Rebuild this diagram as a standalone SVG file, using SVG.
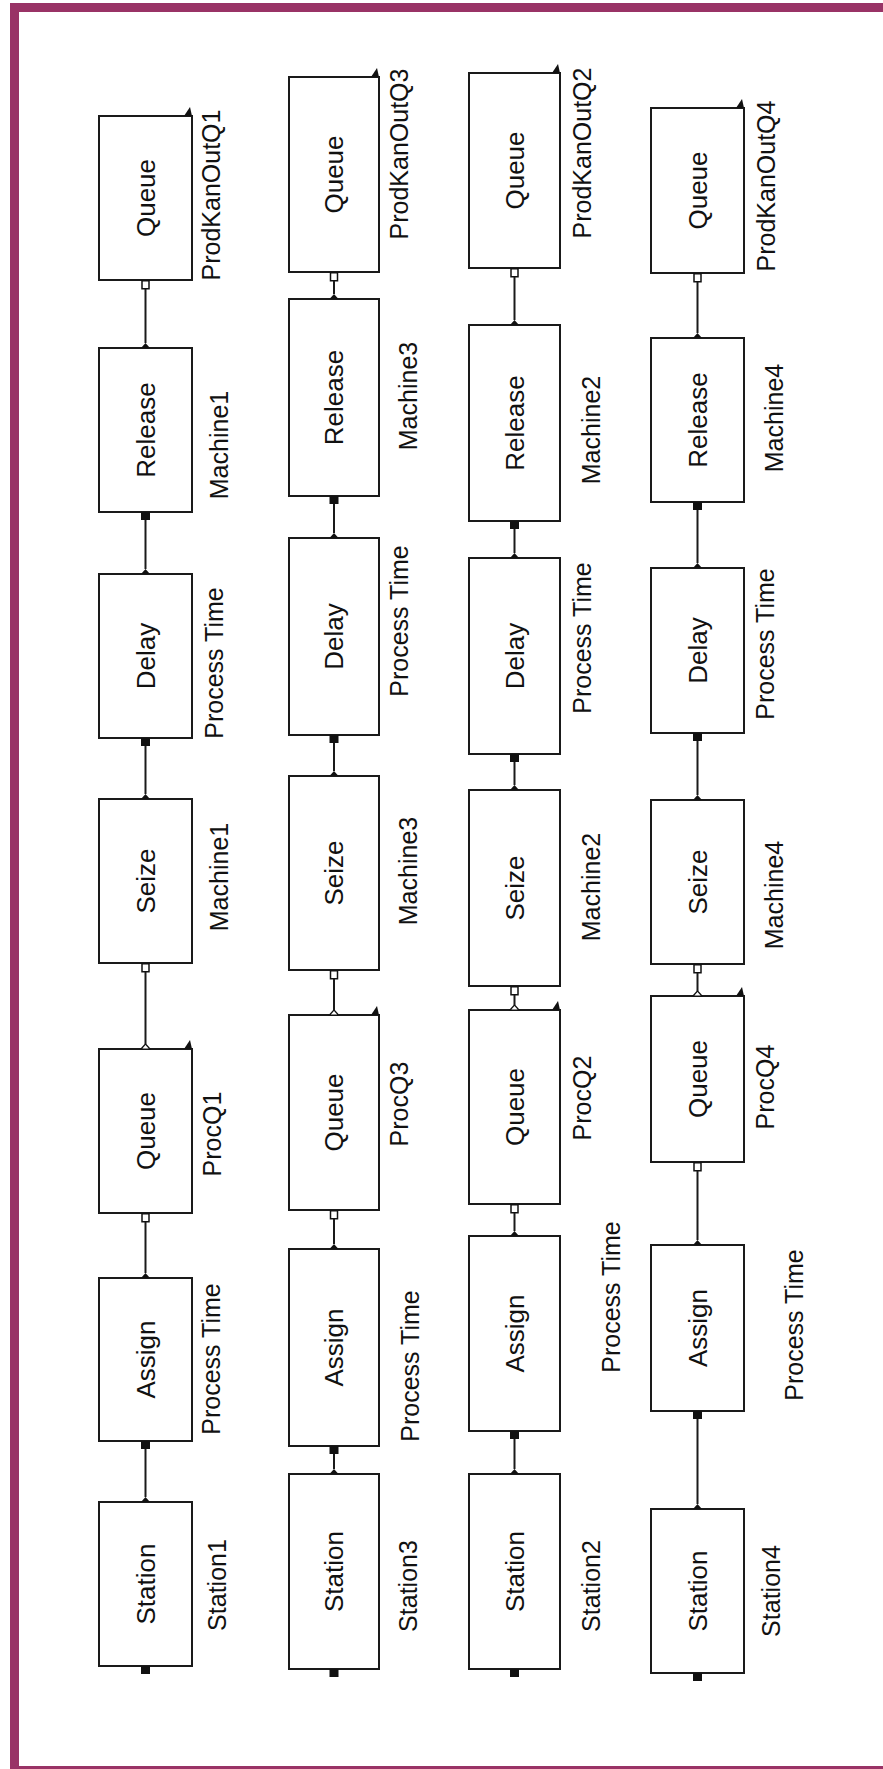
<svg xmlns="http://www.w3.org/2000/svg" xmlns:xlink="http://www.w3.org/1999/xlink" width="883" height="1769" viewBox="0 0 883 1769">
  <style>
    .box { fill: #ffffff; stroke: #1a1a1a; stroke-width: 2; }
    .in { font-family: "Liberation Sans", Arial, sans-serif; font-size: 26px; fill: #111; text-anchor: middle; }
    .lbl { font-family: "Liberation Sans", Arial, sans-serif; font-size: 25px; fill: #111; text-anchor: middle; }
    .wire { stroke: #1a1a1a; stroke-width: 2; fill: none; }
  </style>
  <defs>
    <!-- exit ports (filled / hollow squares), entry ports (small triangles), queue corner mark -->
    <rect id="sqF" x="-4.5" y="0" width="9" height="8" fill="#111"/>
    <rect id="sqO" x="-3.5" y="0.75" width="7" height="8" fill="#ffffff" stroke="#111" stroke-width="1.5"/>
    <path id="triF" d="M-4.5,0 L4.5,0 L0,-5 Z" fill="#111"/>
    <path id="triO" d="M-4.5,0 L4.5,0 L0,-5 Z" fill="#ffffff" stroke="#111" stroke-width="1.2"/>
    <path id="corner" d="M-8,0 L0,0 L-2,-9 Z" fill="#111"/>
  </defs>

  <!-- frame -->
  <rect x="14.5" y="7.5" width="900" height="1763" fill="none" stroke="#993366" stroke-width="9"/>

  <!-- ===== line 1 (x 99..192) ===== -->
  <g id="c1_prodkanout">
    <rect class="box" x="99" y="116" width="93" height="164"/>
    <text class="in" transform="translate(145.5,198) rotate(-90)" dy="0.35em">Queue</text>
    <text class="lbl" transform="translate(220,195) rotate(-90)">ProdKanOutQ1</text>
    <use xlink:href="#corner" x="192" y="116"/>
    <use xlink:href="#sqO" x="145.5" y="280"/>
  </g>
  <g id="c1_release">
    <rect class="box" x="99" y="348" width="93" height="164"/>
    <text class="in" transform="translate(145.5,430) rotate(-90)" dy="0.35em">Release</text>
    <text class="lbl" transform="translate(228,445) rotate(-90)">Machine1</text>
    <use xlink:href="#triF" x="145.5" y="348"/>
    <use xlink:href="#sqF" x="145.5" y="512"/>
  </g>
  <g id="c1_delay">
    <rect class="box" x="99" y="574" width="93" height="164"/>
    <text class="in" transform="translate(145.5,656) rotate(-90)" dy="0.35em">Delay</text>
    <text class="lbl" transform="translate(223,663) rotate(-90)">Process Time</text>
    <use xlink:href="#triF" x="145.5" y="574"/>
    <use xlink:href="#sqF" x="145.5" y="738"/>
  </g>
  <g id="c1_seize">
    <rect class="box" x="99" y="799" width="93" height="164"/>
    <text class="in" transform="translate(145.5,881) rotate(-90)" dy="0.35em">Seize</text>
    <text class="lbl" transform="translate(228,877) rotate(-90)">Machine1</text>
    <use xlink:href="#triF" x="145.5" y="799"/>
    <use xlink:href="#sqO" x="145.5" y="963"/>
  </g>
  <g id="c1_procq">
    <rect class="box" x="99" y="1049" width="93" height="164"/>
    <text class="in" transform="translate(145.5,1131) rotate(-90)" dy="0.35em">Queue</text>
    <text class="lbl" transform="translate(221,1134) rotate(-90)">ProcQ1</text>
    <use xlink:href="#corner" x="192" y="1049"/>
    <use xlink:href="#triO" x="145.5" y="1049"/>
    <use xlink:href="#sqO" x="145.5" y="1213"/>
  </g>
  <g id="c1_assign">
    <rect class="box" x="99" y="1278" width="93" height="163"/>
    <text class="in" transform="translate(145.5,1359.5) rotate(-90)" dy="0.35em">Assign</text>
    <text class="lbl" transform="translate(220,1359) rotate(-90)">Process Time</text>
    <use xlink:href="#triF" x="145.5" y="1278"/>
    <use xlink:href="#sqF" x="145.5" y="1441"/>
  </g>
  <g id="c1_station">
    <rect class="box" x="99" y="1502" width="93" height="164"/>
    <text class="in" transform="translate(145.5,1584) rotate(-90)" dy="0.35em">Station</text>
    <text class="lbl" transform="translate(226,1585) rotate(-90)">Station1</text>
    <use xlink:href="#triF" x="145.5" y="1502"/>
    <use xlink:href="#sqF" x="145.5" y="1666"/>
  </g>

  <!-- ===== line 2 (x 289..379) ===== -->
  <g id="c2_prodkanout">
    <rect class="box" x="289" y="77" width="90" height="195"/>
    <text class="in" transform="translate(334,174.5) rotate(-90)" dy="0.35em">Queue</text>
    <text class="lbl" transform="translate(408,154) rotate(-90)">ProdKanOutQ3</text>
    <use xlink:href="#corner" x="379" y="77"/>
    <use xlink:href="#sqO" x="334" y="272"/>
  </g>
  <g id="c2_release">
    <rect class="box" x="289" y="299" width="90" height="197"/>
    <text class="in" transform="translate(334,397.5) rotate(-90)" dy="0.35em">Release</text>
    <text class="lbl" transform="translate(417,396) rotate(-90)">Machine3</text>
    <use xlink:href="#triF" x="334" y="299"/>
    <use xlink:href="#sqF" x="334" y="496"/>
  </g>
  <g id="c2_delay">
    <rect class="box" x="289" y="538" width="90" height="197"/>
    <text class="in" transform="translate(334,636.5) rotate(-90)" dy="0.35em">Delay</text>
    <text class="lbl" transform="translate(408,621) rotate(-90)">Process Time</text>
    <use xlink:href="#triF" x="334" y="538"/>
    <use xlink:href="#sqF" x="334" y="735"/>
  </g>
  <g id="c2_seize">
    <rect class="box" x="289" y="776" width="90" height="194"/>
    <text class="in" transform="translate(334,873) rotate(-90)" dy="0.35em">Seize</text>
    <text class="lbl" transform="translate(417,871) rotate(-90)">Machine3</text>
    <use xlink:href="#triF" x="334" y="776"/>
    <use xlink:href="#sqO" x="334" y="970"/>
  </g>
  <g id="c2_procq">
    <rect class="box" x="289" y="1015" width="90" height="195"/>
    <text class="in" transform="translate(334,1112.5) rotate(-90)" dy="0.35em">Queue</text>
    <text class="lbl" transform="translate(408,1104) rotate(-90)">ProcQ3</text>
    <use xlink:href="#corner" x="379" y="1015"/>
    <use xlink:href="#triO" x="334" y="1015"/>
    <use xlink:href="#sqO" x="334" y="1210"/>
  </g>
  <g id="c2_assign">
    <rect class="box" x="289" y="1249" width="90" height="197"/>
    <text class="in" transform="translate(334,1347.5) rotate(-90)" dy="0.35em">Assign</text>
    <text class="lbl" transform="translate(419,1366) rotate(-90)">Process Time</text>
    <use xlink:href="#triF" x="334" y="1249"/>
    <use xlink:href="#sqF" x="334" y="1446"/>
  </g>
  <g id="c2_station">
    <rect class="box" x="289" y="1474" width="90" height="195"/>
    <text class="in" transform="translate(334,1571.5) rotate(-90)" dy="0.35em">Station</text>
    <text class="lbl" transform="translate(417,1586) rotate(-90)">Station3</text>
    <use xlink:href="#triF" x="334" y="1474"/>
    <use xlink:href="#sqF" x="334" y="1669"/>
  </g>

  <!-- ===== line 3 (x 469..560) ===== -->
  <g id="c3_prodkanout">
    <rect class="box" x="469" y="73" width="91" height="195"/>
    <text class="in" transform="translate(514.5,170.5) rotate(-90)" dy="0.35em">Queue</text>
    <text class="lbl" transform="translate(591,153) rotate(-90)">ProdKanOutQ2</text>
    <use xlink:href="#corner" x="560" y="73"/>
    <use xlink:href="#sqO" x="514.5" y="268"/>
  </g>
  <g id="c3_release">
    <rect class="box" x="469" y="325" width="91" height="196"/>
    <text class="in" transform="translate(514.5,423) rotate(-90)" dy="0.35em">Release</text>
    <text class="lbl" transform="translate(600,430) rotate(-90)">Machine2</text>
    <use xlink:href="#triF" x="514.5" y="325"/>
    <use xlink:href="#sqF" x="514.5" y="521"/>
  </g>
  <g id="c3_delay">
    <rect class="box" x="469" y="558" width="91" height="196"/>
    <text class="in" transform="translate(514.5,656) rotate(-90)" dy="0.35em">Delay</text>
    <text class="lbl" transform="translate(591,638) rotate(-90)">Process Time</text>
    <use xlink:href="#triF" x="514.5" y="558"/>
    <use xlink:href="#sqF" x="514.5" y="754"/>
  </g>
  <g id="c3_seize">
    <rect class="box" x="469" y="790" width="91" height="196"/>
    <text class="in" transform="translate(514.5,888) rotate(-90)" dy="0.35em">Seize</text>
    <text class="lbl" transform="translate(600,887) rotate(-90)">Machine2</text>
    <use xlink:href="#triF" x="514.5" y="790"/>
    <use xlink:href="#sqO" x="514.5" y="986"/>
  </g>
  <g id="c3_procq">
    <rect class="box" x="469" y="1010" width="91" height="194"/>
    <text class="in" transform="translate(514.5,1107) rotate(-90)" dy="0.35em">Queue</text>
    <text class="lbl" transform="translate(591,1098) rotate(-90)">ProcQ2</text>
    <use xlink:href="#corner" x="560" y="1010"/>
    <use xlink:href="#triO" x="514.5" y="1010"/>
    <use xlink:href="#sqO" x="514.5" y="1204"/>
  </g>
  <g id="c3_assign">
    <rect class="box" x="469" y="1236" width="91" height="195"/>
    <text class="in" transform="translate(514.5,1333.5) rotate(-90)" dy="0.35em">Assign</text>
    <text class="lbl" transform="translate(620,1297) rotate(-90)">Process Time</text>
    <use xlink:href="#triF" x="514.5" y="1236"/>
    <use xlink:href="#sqF" x="514.5" y="1431"/>
  </g>
  <g id="c3_station">
    <rect class="box" x="469" y="1474" width="91" height="195"/>
    <text class="in" transform="translate(514.5,1571.5) rotate(-90)" dy="0.35em">Station</text>
    <text class="lbl" transform="translate(600,1586) rotate(-90)">Station2</text>
    <use xlink:href="#triF" x="514.5" y="1474"/>
    <use xlink:href="#sqF" x="514.5" y="1669"/>
  </g>

  <!-- ===== line 4 (x 651..744) ===== -->
  <g id="c4_prodkanout">
    <rect class="box" x="651" y="108" width="93" height="165"/>
    <text class="in" transform="translate(697.5,190.5) rotate(-90)" dy="0.35em">Queue</text>
    <text class="lbl" transform="translate(775,186) rotate(-90)">ProdKanOutQ4</text>
    <use xlink:href="#corner" x="744" y="108"/>
    <use xlink:href="#sqO" x="697.5" y="273"/>
  </g>
  <g id="c4_release">
    <rect class="box" x="651" y="338" width="93" height="164"/>
    <text class="in" transform="translate(697.5,420) rotate(-90)" dy="0.35em">Release</text>
    <text class="lbl" transform="translate(783,418) rotate(-90)">Machine4</text>
    <use xlink:href="#triF" x="697.5" y="338"/>
    <use xlink:href="#sqF" x="697.5" y="502"/>
  </g>
  <g id="c4_delay">
    <rect class="box" x="651" y="568" width="93" height="165"/>
    <text class="in" transform="translate(697.5,650.5) rotate(-90)" dy="0.35em">Delay</text>
    <text class="lbl" transform="translate(774,644) rotate(-90)">Process Time</text>
    <use xlink:href="#triF" x="697.5" y="568"/>
    <use xlink:href="#sqF" x="697.5" y="733"/>
  </g>
  <g id="c4_seize">
    <rect class="box" x="651" y="800" width="93" height="164"/>
    <text class="in" transform="translate(697.5,882) rotate(-90)" dy="0.35em">Seize</text>
    <text class="lbl" transform="translate(783,895) rotate(-90)">Machine4</text>
    <use xlink:href="#triF" x="697.5" y="800"/>
    <use xlink:href="#sqO" x="697.5" y="964"/>
  </g>
  <g id="c4_procq">
    <rect class="box" x="651" y="996" width="93" height="166"/>
    <text class="in" transform="translate(697.5,1079) rotate(-90)" dy="0.35em">Queue</text>
    <text class="lbl" transform="translate(774,1087) rotate(-90)">ProcQ4</text>
    <use xlink:href="#corner" x="744" y="996"/>
    <use xlink:href="#triO" x="697.5" y="996"/>
    <use xlink:href="#sqO" x="697.5" y="1162"/>
  </g>
  <g id="c4_assign">
    <rect class="box" x="651" y="1245" width="93" height="166"/>
    <text class="in" transform="translate(697.5,1328) rotate(-90)" dy="0.35em">Assign</text>
    <text class="lbl" transform="translate(803,1325) rotate(-90)">Process Time</text>
    <use xlink:href="#triF" x="697.5" y="1245"/>
    <use xlink:href="#sqF" x="697.5" y="1411"/>
  </g>
  <g id="c4_station">
    <rect class="box" x="651" y="1509" width="93" height="164"/>
    <text class="in" transform="translate(697.5,1591) rotate(-90)" dy="0.35em">Station</text>
    <text class="lbl" transform="translate(780,1591) rotate(-90)">Station4</text>
    <use xlink:href="#triF" x="697.5" y="1509"/>
    <use xlink:href="#sqF" x="697.5" y="1673"/>
  </g>

  <!-- connectors: from each module's exit port down to the next module's entry -->
  <g id="connectors" class="wire">
    <line x1="145.5" y1="289" x2="145.5" y2="343"/>
    <line x1="145.5" y1="520" x2="145.5" y2="569"/>
    <line x1="145.5" y1="746" x2="145.5" y2="794"/>
    <line x1="145.5" y1="972" x2="145.5" y2="1044"/>
    <line x1="145.5" y1="1222" x2="145.5" y2="1273"/>
    <line x1="145.5" y1="1449" x2="145.5" y2="1497"/>

    <line x1="334" y1="281" x2="334" y2="294"/>
    <line x1="334" y1="504" x2="334" y2="533"/>
    <line x1="334" y1="743" x2="334" y2="771"/>
    <line x1="334" y1="979" x2="334" y2="1010"/>
    <line x1="334" y1="1219" x2="334" y2="1244"/>
    <line x1="334" y1="1454" x2="334" y2="1469"/>

    <line x1="514.5" y1="277" x2="514.5" y2="320"/>
    <line x1="514.5" y1="529" x2="514.5" y2="553"/>
    <line x1="514.5" y1="762" x2="514.5" y2="785"/>
    <line x1="514.5" y1="995" x2="514.5" y2="1005"/>
    <line x1="514.5" y1="1213" x2="514.5" y2="1231"/>
    <line x1="514.5" y1="1439" x2="514.5" y2="1469"/>

    <line x1="697.5" y1="282" x2="697.5" y2="333"/>
    <line x1="697.5" y1="510" x2="697.5" y2="563"/>
    <line x1="697.5" y1="741" x2="697.5" y2="795"/>
    <line x1="697.5" y1="973" x2="697.5" y2="991"/>
    <line x1="697.5" y1="1171" x2="697.5" y2="1240"/>
    <line x1="697.5" y1="1419" x2="697.5" y2="1504"/>
  </g>
</svg>
